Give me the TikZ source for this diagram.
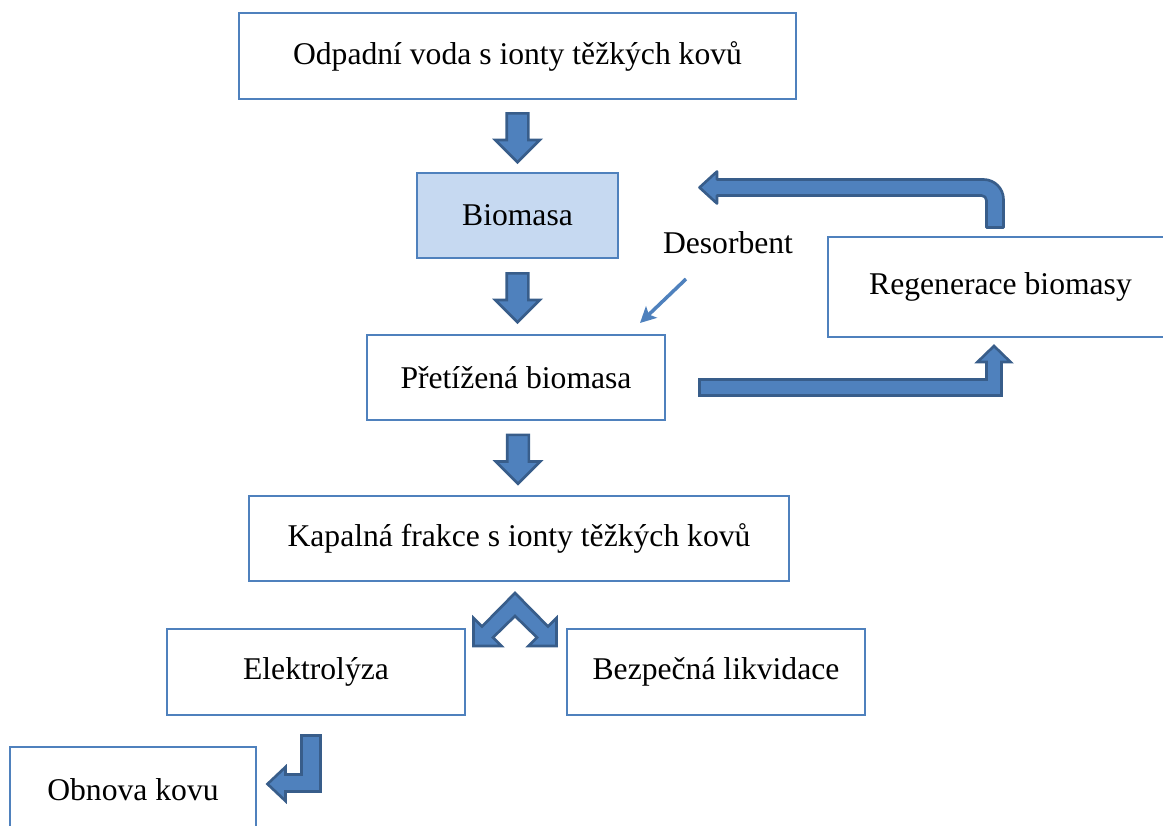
\documentclass[tikz,border=0pt]{standalone}
\usepackage{fontspec}
\setmainfont{Liberation Serif}
\usetikzlibrary{shapes.arrows, calc, arrows.meta}

\definecolor{boxline}{HTML}{4F81BD}
\definecolor{biofill}{HTML}{C6D9F1}
\definecolor{arrowfill}{HTML}{4F81BD}
\definecolor{arrowline}{HTML}{385D8A}

\begin{document}
\begin{tikzpicture}[
  box/.style={draw=boxline, line width=0.6pt, minimum height=1.7cm, inner sep=0pt, font=\fontsize{18}{21}\selectfont},
  blockarrow/.style={fill=arrowfill, draw=arrowline, line width=1.5pt},
  downarrow/.style={blockarrow, single arrow, rotate=-90, anchor=tail, minimum height=0.98cm, minimum width=0.86cm, single arrow head extend=0.23cm, inner xsep=0pt, inner ysep=0.19cm},
  thinarrow/.style={draw=arrowfill, line width=2pt, -{Stealth[length=9pt, width=9pt, inset=2pt]}}
]

\useasboundingbox (0,0) rectangle (23.26,-16.52);

\node[box, minimum width=11.14cm, minimum height=1.72cm] (voda) at (10.35,-1.12) {Odpadní voda s ionty těžkých kovů};
\node[box, fill=biofill, minimum width=4.02cm] (bio) at (10.35,-4.31) {Biomasa};
\node[box, minimum width=5.96cm] (pret) at (10.32,-7.55) {Přetížená biomasa};
\node[box, minimum width=6.9cm, minimum height=2cm] (regen) at (20.01,-5.74) {Regenerace biomasy};
\node[box, minimum width=10.8cm] (kap) at (10.38,-10.77) {Kapalná frakce s ionty těžkých kovů};
\node[box, minimum width=5.96cm, minimum height=1.72cm] (elek) at (6.32,-13.44) {Elektrolýza};
\node[box, minimum width=5.96cm, minimum height=1.72cm] (bezp) at (14.32,-13.44) {Bezpečná likvidace};
\node[box, minimum width=4.92cm, minimum height=1.72cm] (obn) at (2.66,-15.80) {Obnova kovu};

\node[font=\fontsize{18}{21}\selectfont, inner sep=0pt] (deso) at (14.56,-4.86) {Desorbent};

\node[downarrow] (arr1) at ([yshift=-0.25cm]voda.south) {};
\node[downarrow] (arr2) at ([yshift=-0.27cm]bio.south) {};
\node[downarrow] (arr3) at ([xshift=0.04cm, yshift=-0.26cm]pret.south) {};

\coordinate (desotail) at (13.72,-5.58);
\coordinate (desotip) at (12.80,-6.46);
\draw[thinarrow] (desotail) -- (desotip);

\draw[blockarrow, line join=round] (19.73,-4.55) -- (19.73,-4.01) arc[start angle=0, end angle=90, radius=0.1]
  -- (14.34,-3.91) -- (14.34,-4.07) -- (13.99,-3.75) -- (14.34,-3.43) -- (14.34,-3.59)
  -- (19.67,-3.59) arc[start angle=90, end angle=0, radius=0.4] -- (20.07,-4.55) -- cycle;

\draw[blockarrow] (13.99,-7.59) -- (19.73,-7.59) -- (19.73,-7.24) -- (19.55,-7.24) -- (19.88,-6.92)
  -- (20.21,-7.24) -- (20.03,-7.24) -- (20.03,-7.91) -- (13.99,-7.91) -- cycle;

\draw[blockarrow] (10.30,-11.86) -- (10.96,-12.53) -- (11.13,-12.36) -- (11.13,-12.92) -- (10.57,-12.92)
  -- (10.74,-12.75) -- (10.30,-12.32) -- (9.86,-12.75) -- (10.03,-12.92) -- (9.47,-12.92)
  -- (9.47,-12.36) -- (9.64,-12.53) -- cycle;

\draw[blockarrow] (6.03,-14.71) -- (6.41,-14.71) -- (6.41,-15.83) -- (5.71,-15.83) -- (5.71,-16.02)
  -- (5.35,-15.68) -- (5.71,-15.34) -- (5.71,-15.49) -- (6.03,-15.49) -- cycle;

\end{tikzpicture}
\end{document}
